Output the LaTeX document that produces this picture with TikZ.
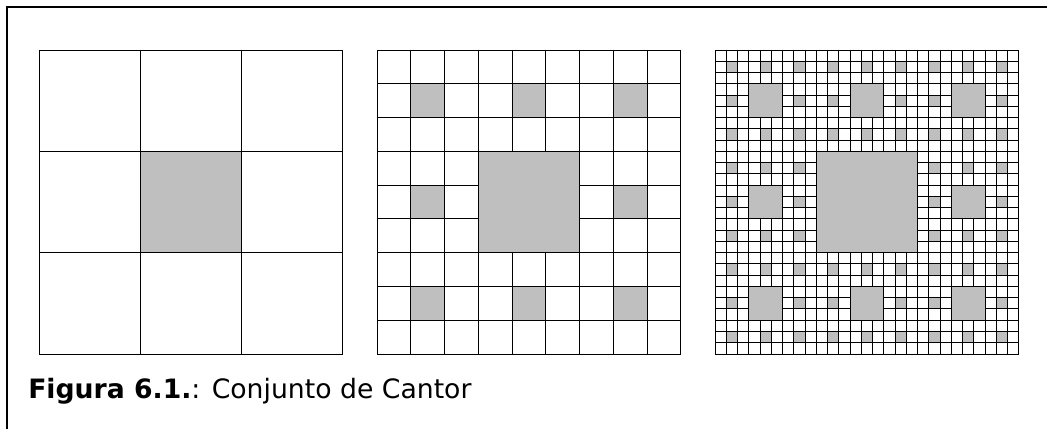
\documentclass[tikz,border=0pt]{standalone}
\usepackage{fontspec}
\setmainfont{DejaVu Sans}
\usepackage{xcolor}
\usepackage{tikz}
\tikzset{
  cell/.style={draw=black, line width=0.75pt},
  hole/.style={fill=holegray, draw=black, line width=0.75pt},
  frameline/.style={draw=black, line width=1.5pt},
  captext/.style={anchor=base west, inner sep=0pt, font=\fontsize{20}{24}\selectfont},
}

\begin{document}
\begin{tikzpicture}[x=0.75pt, y=0.75pt]
    \definecolor{holegray}{rgb}{0.75,0.75,0.75}
    \useasboundingbox (0,0) rectangle (1047,429);
    \draw[frameline] (7,0) -- (7,422) -- (1047,422);
    % first step: 3x3
    \begin{scope}[shift={(39,75)}, x=76pt, y=76pt]
      \draw[cell, step=1] (0,0) grid (3,3);
      \draw[hole] (1,1) rectangle (2,2);
    \end{scope}
    % second step: 9x9
    \begin{scope}[shift={(377,75)}, x=25.3333pt, y=25.3333pt]
      \draw[cell, step=1] (0,0) grid (9,9);
      \foreach \a in {0,1,2}
        \foreach \b in {0,1,2}
          \draw[hole] (3*\a+1,3*\b+1) rectangle ++(1,1);
      \draw[hole] (3,3) rectangle (6,6);
    \end{scope}
    % third step: 27x27
    \begin{scope}[shift={(715,75)}, x=8.4444pt, y=8.4444pt]
      \draw[cell, step=1] (0,0) grid (27,27);
      \foreach \a in {0,...,8}
        \foreach \b in {0,...,8}
          \draw[hole] (3*\a+1,3*\b+1) rectangle ++(1,1);
      \foreach \a in {0,1,2}
        \foreach \b in {0,1,2}
          \draw[hole] (9*\a+3,9*\b+3) rectangle ++(3,3);
      \draw[hole] (9,9) rectangle (18,18);
    \end{scope}
    \node[captext] (caption) at (28,31) {\textbf{Figura 6.1.}: Conjunto de Cantor};
\end{tikzpicture}
\end{document}
